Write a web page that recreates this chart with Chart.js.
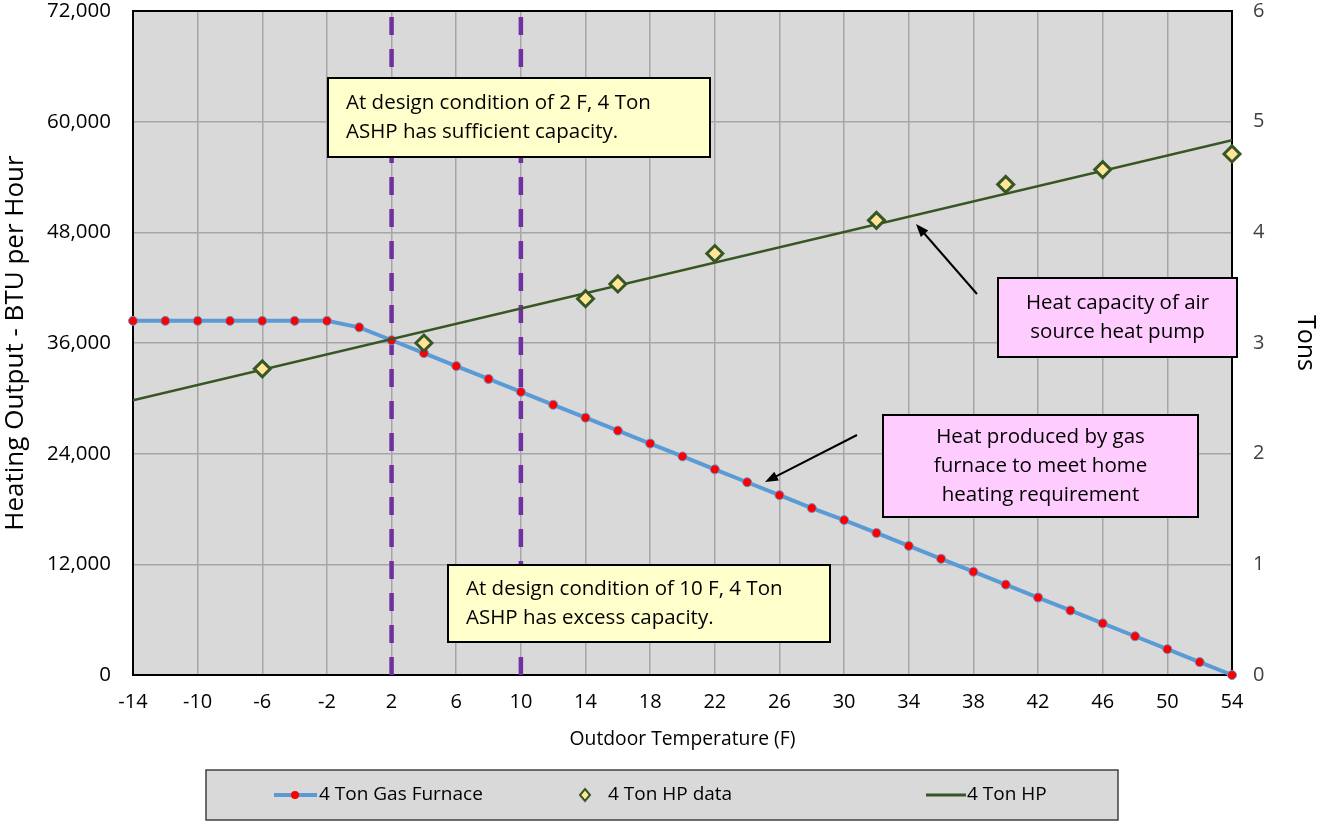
<!DOCTYPE html>
<html>
<head>
<meta charset="utf-8">
<script src="https://cdn.jsdelivr.net/npm/chart.js@4"></script>
<style>
  html, body { margin: 0; padding: 0; background: #fff; }
  #wrap { width: 1325px; height: 822px; position: relative; }
</style>
</head>
<body>
<div id="wrap"><canvas id="heatChart" width="1325" height="822"></canvas></div>
<script>
// tick labels on the temperature axis
const xTicks = [-14, -10, -6, -2, 2, 6, 10, 14, 18, 22, 26, 30, 34, 38, 42, 46, 50, 54];

// gas furnace output (BTU/h) vs outdoor temp (F)
const furnaceTemps = [-14, -12, -10, -8, -6, -4, -2, 0, 2, 4, 6, 8, 10, 12, 14, 16, 18, 20,
  22, 24, 26, 28, 30, 32, 34, 36, 38, 40, 42, 44, 46, 48, 50, 52, 54];
const furnaceBtu = [38400, 38400, 38400, 38400, 38400, 38400, 38400, 37700, 36300, 34900,
  33500, 32100, 30700, 29300, 27900, 26500, 25100, 23700, 22300, 20900, 19500, 18100,
  16800, 15400, 14000, 12600, 11200, 9800, 8400, 7000, 5600, 4200, 2800, 1400, 0];

// heat pump manufacturer data points
const hpDataTemps = [-6, 4, 14, 16, 22, 32, 40, 46, 54];
const hpDataBtu = [33200, 36000, 40800, 42400, 45700, 49300, 53200, 54800, 56500];

// heat pump fitted line
const hpLineTemps = [-14, 54];
const hpLineBtu = [29800, 58000];

// design conditions (vertical dashed lines)
const designTemps = [2, 10];
const btuRange = [0, 72000];

const FONT = '"Open Sans", Lato, sans-serif';

function pts(xs, ys) {
  return xs.map((x, i) => ({ x: x, y: ys[i] }));
}

const designSets = designTemps.map(t => ({
  label: 'Design ' + t + ' F',
  data: pts([t, t], btuRange),
  showLine: true,
  borderColor: '#7030A0',
  borderWidth: 4.5,
  borderDash: [18, 14],
  pointRadius: 0,
  order: 3
}));

// text boxes + arrows, and the boxed legend underneath
const notes = [
  { x: 328, y: 78, w: 382, h: 79, bg: '#FFFFCC', align: 'left', tx: 346,
    lines: ['At design condition of 2 F, 4 Ton', 'ASHP has sufficient capacity.'] },
  { x: 448, y: 565, w: 382, h: 77, bg: '#FFFFCC', align: 'left', tx: 466,
    lines: ['At design condition of 10 F, 4 Ton', 'ASHP has excess capacity.'] },
  { x: 998, y: 278, w: 239, h: 79, bg: '#FFCCFF', align: 'center',
    lines: ['Heat capacity of air', 'source heat pump'] },
  { x: 883, y: 415, w: 315, h: 102, bg: '#FFCCFF', align: 'center',
    lines: ['Heat produced by gas', 'furnace to meet home', 'heating requirement'] }
];
const arrows = [
  { from: [977, 294], to: [916, 224] },
  { from: [857, 435], to: [765, 482] }
];

function drawArrow(ctx, a) {
  const [x1, y1] = a.from, [x2, y2] = a.to;
  const ang = Math.atan2(y2 - y1, x2 - x1);
  ctx.strokeStyle = '#000';
  ctx.fillStyle = '#000';
  ctx.lineWidth = 2;
  ctx.beginPath();
  ctx.moveTo(x1, y1);
  ctx.lineTo(x2 - 8 * Math.cos(ang), y2 - 8 * Math.sin(ang));
  ctx.stroke();
  ctx.beginPath();
  ctx.moveTo(x2, y2);
  ctx.lineTo(x2 - 13 * Math.cos(ang) + 5 * Math.sin(ang), y2 - 13 * Math.sin(ang) - 5 * Math.cos(ang));
  ctx.lineTo(x2 - 13 * Math.cos(ang) - 5 * Math.sin(ang), y2 - 13 * Math.sin(ang) + 5 * Math.cos(ang));
  ctx.closePath();
  ctx.fill();
}

const extras = {
  id: 'extras',
  beforeDraw(chart) {
    const { ctx, chartArea: a } = chart;
    ctx.save();
    ctx.fillStyle = '#D9D9D9';
    ctx.fillRect(a.left, a.top, a.right - a.left, a.bottom - a.top);
    ctx.restore();
  },
  beforeDatasetsDraw(chart) {
    // plot frame under the marks so end points sit on top of it
    const { ctx, chartArea: a } = chart;
    ctx.save();
    ctx.strokeStyle = '#000';
    ctx.lineWidth = 2;
    ctx.strokeRect(a.left, a.top, a.right - a.left, a.bottom - a.top);
    ctx.restore();
  },
  afterDraw(chart) {
    const { ctx } = chart;
    ctx.save();
    notes.forEach(n => {
      ctx.fillStyle = n.bg;
      ctx.fillRect(n.x, n.y, n.w, n.h);
      ctx.strokeStyle = '#000';
      ctx.lineWidth = 2;
      ctx.strokeRect(n.x, n.y, n.w, n.h);
      ctx.fillStyle = '#000';
      ctx.font = '20.5px ' + FONT;
      ctx.textBaseline = 'middle';
      ctx.textAlign = n.align;
      const lh = 29;
      const y0 = n.y + n.h / 2 - (n.lines.length - 1) * lh / 2;
      const tx = n.align === 'center' ? n.x + n.w / 2 : n.tx;
      n.lines.forEach((l, i) => ctx.fillText(l, tx, y0 + i * lh));
    });
    arrows.forEach(ar => drawArrow(ctx, ar));

    // legend
    ctx.fillStyle = '#D9D9D9';
    ctx.fillRect(206, 770, 912, 50);
    ctx.strokeStyle = '#404040';
    ctx.lineWidth = 1.5;
    ctx.strokeRect(206, 770, 912, 50);
    const ly = 795;
    ctx.strokeStyle = '#5B9BD5';
    ctx.lineWidth = 4;
    ctx.beginPath(); ctx.moveTo(274, ly); ctx.lineTo(317, ly); ctx.stroke();
    ctx.fillStyle = '#FF0000';
    ctx.beginPath(); ctx.arc(295, ly, 4, 0, Math.PI * 2); ctx.fill();
    ctx.fillStyle = '#FFE699';
    ctx.strokeStyle = '#375623';
    ctx.lineWidth = 2;
    ctx.beginPath();
    ctx.moveTo(585, ly - 6); ctx.lineTo(590, ly); ctx.lineTo(585, ly + 6); ctx.lineTo(580, ly);
    ctx.closePath(); ctx.fill(); ctx.stroke();
    ctx.strokeStyle = '#375623';
    ctx.lineWidth = 3;
    ctx.beginPath(); ctx.moveTo(926, ly); ctx.lineTo(966, ly); ctx.stroke();
    ctx.fillStyle = '#000';
    ctx.font = '19px ' + FONT;
    ctx.textAlign = 'left';
    ctx.textBaseline = 'middle';
    ctx.fillText('4 Ton Gas Furnace', 319, ly);
    ctx.fillText('4 Ton HP data', 608, ly);
    ctx.fillText('4 Ton HP', 967, ly);
    ctx.restore();
  }
};

const chart = new Chart(document.getElementById('heatChart'), {
  type: 'scatter',
  data: {
    datasets: [
      {
        label: '4 Ton Gas Furnace',
        data: pts(furnaceTemps, furnaceBtu),
        showLine: true,
        borderColor: '#5B9BD5',
        borderWidth: 4,
        pointBackgroundColor: '#FF0000',
        pointBorderColor: '#5B9BD5',
        pointBorderWidth: 1,
        pointRadius: 4.5,
        clip: false,
        order: 2
      },
      {
        label: '4 Ton HP data',
        data: pts(hpDataTemps, hpDataBtu),
        pointStyle: 'rectRot',
        pointRadius: 8,
        pointBackgroundColor: '#FFE699',
        pointBorderColor: '#375623',
        pointBorderWidth: 3,
        clip: false,
        order: 0
      },
      {
        label: '4 Ton HP',
        data: pts(hpLineTemps, hpLineBtu),
        showLine: true,
        borderColor: '#375623',
        borderWidth: 2.5,
        pointRadius: 0,
        order: 1
      },
      ...designSets
    ]
  },
  options: {
    responsive: false,
    animation: false,
    layout: { padding: { top: 10, left: 0, right: 0, bottom: 67 } },
    plugins: { legend: { display: false }, tooltip: { enabled: false } },
    scales: {
      x: {
        type: 'linear',
        min: -14,
        max: 54,
        afterBuildTicks: s => { s.ticks = xTicks.map(v => ({ value: v })); },
        afterFit: s => { s.height = 80; },
        grid: { color: '#A6A6A6', lineWidth: 1.5, drawTicks: false },
        border: { display: false },
        ticks: { color: '#000', font: { family: FONT, size: 20 }, padding: 15, maxRotation: 0 },
        title: { display: true, text: 'Outdoor Temperature (F)', color: '#000',
          font: { family: FONT, size: 19.3 }, padding: { top: 0, bottom: 4 } }
      },
      y: {
        position: 'left',
        min: 0,
        max: 72000,
        afterFit: s => { s.width = 133; s.paddingTop = 0; s.paddingBottom = 0; },
        ticks: { stepSize: 12000, color: '#000', font: { family: FONT, size: 20.5 }, padding: 22,
          callback: v => v.toLocaleString('en-US') },
        grid: { color: '#A6A6A6', lineWidth: 1.5, drawTicks: false },
        border: { display: false },
        title: { display: true, text: 'Heating Output - BTU per Hour', color: '#000',
          font: { family: FONT, size: 26 }, padding: { top: 0, bottom: 0 } }
      },
      tons: {
        position: 'right',
        min: 0,
        max: 6,
        afterFit: s => { s.width = 93; s.paddingTop = 0; s.paddingBottom = 0; },
        ticks: { stepSize: 1, color: '#404040', font: { family: FONT, size: 20 }, padding: 21 },
        grid: { display: false, drawTicks: false },
        border: { display: false },
        title: { display: true, text: 'Tons', color: '#000',
          font: { family: FONT, size: 25 }, padding: { top: 5, bottom: 0 } }
      }
    }
  },
  plugins: [extras]
});
</script>
</body>
</html>
